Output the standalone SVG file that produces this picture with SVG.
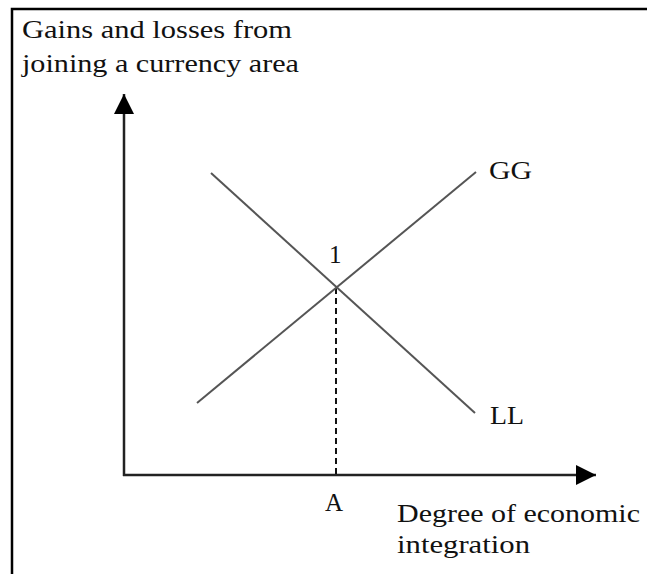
<svg xmlns="http://www.w3.org/2000/svg" width="647" height="574" viewBox="0 0 647 574">
<style>
text{font-family:"Liberation Serif","Times New Roman",serif;font-size:25px;fill:#111}
.curve{stroke:#555;stroke-width:2;fill:none}
.axis{stroke:#222;stroke-width:2.5;fill:none}
</style>
<defs>
<marker id="ah" viewBox="0 0 10 10" refX="10" refY="5" markerWidth="20" markerHeight="20" markerUnits="userSpaceOnUse" orient="auto">
<path d="M0,0 L10,5 L0,10 z" fill="#000"/>
</marker>
</defs>
<rect width="647" height="574" fill="#fff"/>
<path d="M12,574 V9 H647" stroke="#000" stroke-width="2.5" fill="none"/>
<g id="labels">
<text x="22" y="38" textLength="270" lengthAdjust="spacingAndGlyphs">Gains and losses from</text>
<text x="22" y="72" textLength="277" lengthAdjust="spacingAndGlyphs">joining a currency area</text>
<text x="397" y="522" textLength="243" lengthAdjust="spacingAndGlyphs">Degree of economic</text>
<text x="397" y="553" textLength="133" lengthAdjust="spacingAndGlyphs">integration</text>
</g>
<g id="connectors">
<line class="axis" x1="124" y1="476" x2="124" y2="94" marker-end="url(#ah)"/>
<line class="axis" x1="123" y1="475" x2="596" y2="475" marker-end="url(#ah)"/>
<line x1="336" y1="288" x2="336" y2="475" stroke="#111" stroke-width="2" stroke-dasharray="6,4"/>
</g>
<g id="GG"><line class="curve" x1="197" y1="403" x2="476" y2="172"/><text x="489" y="179" textLength="43" lengthAdjust="spacingAndGlyphs">GG</text></g>
<g id="LL"><line class="curve" x1="211" y1="173" x2="475" y2="413"/><text x="490" y="424" textLength="34" lengthAdjust="spacingAndGlyphs">LL</text></g>
<g id="point1"><text x="329" y="263">1</text></g>
<g id="A"><text x="325" y="511">A</text></g>
</svg>
